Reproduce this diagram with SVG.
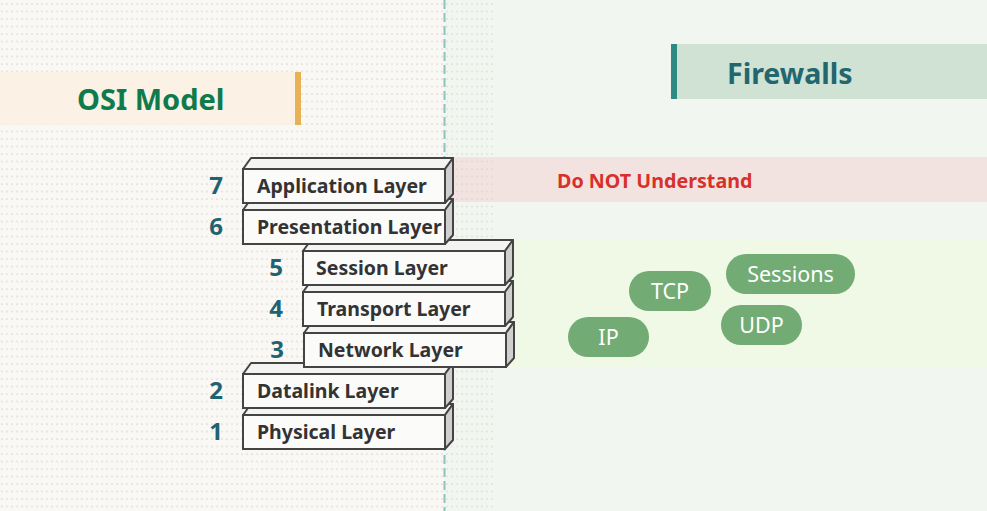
<svg xmlns="http://www.w3.org/2000/svg" width="987" height="511" viewBox="0 0 987 511">
<defs>
<pattern id="dots" x="0" y="2" width="5" height="7.5" patternUnits="userSpaceOnUse">
<ellipse cx="2" cy="2" rx="1.2" ry="0.9" fill="#d3d0c8" opacity="0.55"/>
</pattern>
<style>
.num{font-family:"Noto Sans","Open Sans",sans-serif;font-weight:700;font-size:24px;fill:#1f6373;text-anchor:middle}
.lbl{font-family:"Noto Sans","Open Sans",sans-serif;font-weight:700;font-size:19.5px;fill:#333333}
.front{fill:#fbfbfa;stroke:#444444;stroke-width:2}
.top{fill:#f4f4f3;stroke:#444444;stroke-width:2;stroke-linejoin:round}
.side{fill:#cfcfcf;stroke:#444444;stroke-width:2;stroke-linejoin:round}
.pill{fill:#72ab74}
.pt{font-family:"Noto Sans","Open Sans",sans-serif;font-size:21.5px;fill:#ffffff;text-anchor:middle}
</style>
</defs>
<rect x="0" y="0" width="444" height="511" fill="#f9f8f5"/>
<rect x="444" y="0" width="543" height="511" fill="#f1f7f0"/>
<rect x="444" y="157" width="543" height="45" fill="#f2e3e0"/>
<rect x="444" y="239" width="543" height="128" fill="#f0f9e6"/>
<rect x="0" y="0" width="494" height="511" fill="url(#dots)"/>
<line x1="444.5" y1="0" x2="444.5" y2="511" stroke="#8cc3bc" stroke-width="2" stroke-dasharray="9,4"/>

<g id="osi-title">
<rect x="0" y="72" width="295" height="53" fill="#fbf0e2" opacity="0.9"/>
<rect x="295" y="72" width="6" height="53" fill="#e8b153"/>
<text x="77" y="110" font-family="'Noto Sans','Open Sans',sans-serif" font-weight="700" font-size="29" fill="#0f7a4b">OSI Model</text>
</g>
<g id="firewalls-title">
<rect x="671" y="44" width="316" height="55" fill="#cfe2d3"/>
<rect x="671" y="44" width="6" height="55" fill="#2e8b84"/>
<text x="727" y="84" font-family="'Noto Sans','Open Sans',sans-serif" font-weight="700" font-size="28.5" fill="#22666f">Firewalls</text>
</g>
<g id="do-not-understand">
<text x="557" y="188" font-family="'Noto Sans','Open Sans',sans-serif" font-weight="700" font-size="19.7" fill="#d8302a">Do NOT Understand</text>
</g>

<g id="layer-1">
<path class="top" d="M243 415 L251 404 L453 404 L445 415 Z"/>
<path class="side" d="M445 415 L453 404 L453 440 L445 449 Z"/>
<rect class="front" x="243" y="415" width="202" height="34"/>
<text class="lbl" x="257" y="439">Physical Layer</text>
<text class="num" x="216" y="440">1</text>
</g>
<g id="layer-2">
<path class="top" d="M243 374 L251 363 L453 363 L445 374 Z"/>
<path class="side" d="M445 374 L453 363 L453 399 L445 408 Z"/>
<rect class="front" x="243" y="374" width="202" height="34"/>
<text class="lbl" x="257" y="398">Datalink Layer</text>
<text class="num" x="216" y="399">2</text>
</g>
<g id="layer-3">
<path class="top" d="M304 333 L312 322 L514 322 L506 333 Z"/>
<path class="side" d="M506 333 L514 322 L514 358 L506 367 Z"/>
<rect class="front" x="304" y="333" width="202" height="34"/>
<text class="lbl" x="318" y="357">Network Layer</text>
<text class="num" x="277" y="358">3</text>
</g>
<g id="layer-4">
<path class="top" d="M303 292 L311 281 L513 281 L505 292 Z"/>
<path class="side" d="M505 292 L513 281 L513 317 L505 326 Z"/>
<rect class="front" x="303" y="292" width="202" height="34"/>
<text class="lbl" x="317" y="316">Transport Layer</text>
<text class="num" x="276" y="317">4</text>
</g>
<g id="layer-5">
<path class="top" d="M303 251 L311 240 L513 240 L505 251 Z"/>
<path class="side" d="M505 251 L513 240 L513 276 L505 285 Z"/>
<rect class="front" x="303" y="251" width="202" height="34"/>
<text class="lbl" x="316" y="275">Session Layer</text>
<text class="num" x="276" y="276">5</text>
</g>
<g id="layer-6">
<path class="top" d="M243 210 L251 199 L453 199 L445 210 Z"/>
<path class="side" d="M445 210 L453 199 L453 235 L445 244 Z"/>
<rect class="front" x="243" y="210" width="202" height="34"/>
<text class="lbl" x="257" y="234">Presentation Layer</text>
<text class="num" x="216" y="235">6</text>
</g>
<g id="layer-7">
<path class="top" d="M243 169 L251 158 L453 158 L445 169 Z"/>
<path class="side" d="M445 169 L453 158 L453 194 L445 203 Z"/>
<rect class="front" x="243" y="169" width="202" height="34"/>
<text class="lbl" x="257" y="193">Application Layer</text>
<text class="num" x="216" y="194">7</text>
</g>

<g id="pill-ip">
<rect class="pill" x="568" y="317" width="81" height="40" rx="20"/>
<text class="pt" x="608.5" y="345">IP</text>
</g>
<g id="pill-tcp">
<rect class="pill" x="629" y="271" width="82" height="40" rx="20"/>
<text class="pt" x="670" y="299">TCP</text>
</g>
<g id="pill-sessions">
<rect class="pill" x="726" y="254" width="129" height="40" rx="20"/>
<text class="pt" x="790.5" y="282">Sessions</text>
</g>
<g id="pill-udp">
<rect class="pill" x="721" y="305" width="81" height="40" rx="20"/>
<text class="pt" x="761.5" y="333">UDP</text>
</g>
<g id="connectors"/>
</svg>
